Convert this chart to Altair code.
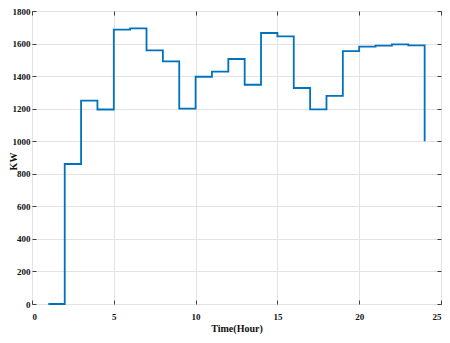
import altair as alt
import pandas as pd

hours = list(range(1, 25)) + [24]
kw = [0, 860, 1250, 1195, 1685, 1693, 1558, 1490, 1200, 1396, 1427, 1505,
      1347, 1665, 1644, 1327, 1196, 1278, 1554, 1581, 1587, 1595, 1589, 1589, 1000]
x_ticks = [0, 5, 10, 15, 20, 25]
y_ticks = list(range(0, 1801, 200))

df = pd.DataFrame({"hour": hours, "kw": kw, "idx": list(range(len(hours)))})

FONT = "Liberation Serif"
AX = "#404040"
W, H = 409, 293

xs = alt.Scale(domain=[0, 25], nice=False, zero=False)
ys = alt.Scale(domain=[0, 1800], nice=False)

main = alt.Chart(df).mark_line(interpolate="step-after", color="#0072BD", strokeWidth=1.8).encode(
    x=alt.X("hour:Q", scale=xs, axis=alt.Axis(
        values=x_ticks, format="d", title="Time(Hour)", orient="bottom", offset=-4, tickSize=4,
        labelPadding=8, domain=False, grid=True, gridColor="#e3e3e3",
        tickColor=AX, labelColor="#111", titleX=W / 2, titleY=28.5,
        titleBaseline="middle", titleAlign="center")),
    y=alt.Y("kw:Q", scale=ys, axis=alt.Axis(
        values=y_ticks, format="d", title="KW", orient="left", offset=-4, tickSize=4,
        labelPadding=2, domain=False, grid=True, gridColor="#e3e3e3",
        tickColor=AX, labelColor="#111", titleX=-23, titleY=150,
        titleAngle=-90, titleBaseline="middle", titleAlign="center")),
    order="idx:Q",
)

mirror = alt.Chart(df).mark_line(strokeOpacity=0).encode(
    x=alt.X("hour:Q", scale=xs, axis=alt.Axis(
        values=x_ticks, orient="top", offset=-4, tickSize=4, labels=False,
        domain=False, grid=False, tickColor=AX, title=None)),
    y=alt.Y("kw:Q", scale=ys, axis=alt.Axis(
        values=y_ticks, orient="right", offset=-4, tickSize=4, labels=False,
        domain=False, grid=False, tickColor=AX, title=None)),
    order="idx:Q",
)

chart = alt.layer(main, mirror).resolve_axis(x="independent", y="independent").properties(
    width=W, height=H,
    autosize=alt.AutoSizeParams(type="none"),
    padding={"left": 24, "top": 3, "right": 1, "bottom": 31},
).configure_view(stroke=AX, strokeWidth=1).configure_axis(
    labelFont=FONT, titleFont=FONT, labelFontSize=9, titleFontSize=10,
    labelFontWeight="bold", titleFontWeight="bold", titleColor="#111",
)

chart.save("out.html", embed_options={"renderer": "svg", "actions": False})
